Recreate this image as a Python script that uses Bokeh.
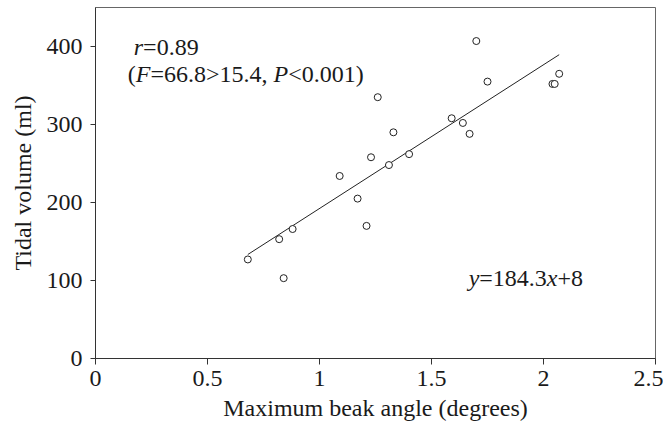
from bokeh.plotting import figure
from bokeh.models import Range1d, FixedTicker, Label
from bokeh.embed import file_html
from bokeh.resources import INLINE

# ---- data ----
beak_angle = [0.68, 0.84, 0.82, 0.88, 1.09, 1.17, 1.21, 1.23, 1.26, 1.33,
              1.31, 1.40, 1.59, 1.64, 1.67, 1.70, 1.75, 2.04, 2.05, 2.07]
tidal_volume = [127, 103, 153, 166, 234, 205, 170, 258, 335, 290,
                248, 262, 308, 302, 288, 407, 355, 352, 352, 365]

fit_slope = 184.3
fit_intercept = 8
fit_x = [0.68, 2.07]

x_ticks = [0, 0.5, 1, 1.5, 2, 2.5]
x_tick_labels = ["0", "0.5", "1", "1.5", "2", "2.5"]
y_ticks = [0, 100, 200, 300, 400]
y_tick_labels = ["0", "100", "200", "300", "400"]

FONT = "Liberation Serif"
TXT = "#1a1a1a"

p = figure(frame_width=560, frame_height=351, min_border_left=95, min_border_right=8,
           min_border_top=7, min_border_bottom=62,
           x_range=Range1d(0, 2.5), y_range=Range1d(0, 450),
           output_backend="svg", toolbar_location=None)

p.grid.visible = False
p.background_fill_color = "white"
p.border_fill_color = "white"
p.outline_line_color = "#666666"
p.outline_line_width = 1

p.xaxis.ticker = FixedTicker(ticks=x_ticks)
p.xaxis.major_label_overrides = {t: l for t, l in zip(x_ticks, x_tick_labels)}
p.yaxis.ticker = FixedTicker(ticks=y_ticks)
p.yaxis.major_label_overrides = {t: l for t, l in zip(y_ticks, y_tick_labels)}

for ax in (p.xaxis, p.yaxis):
    ax.axis_line_color = "#333333"
    ax.major_tick_line_color = "#333333"
    ax.minor_tick_line_color = None
    ax.major_tick_in = 0
    ax.major_label_text_font = FONT
    ax.major_label_text_font_size = "24px"
    ax.major_label_text_color = TXT
    ax.axis_label_text_font = FONT
    ax.axis_label_text_font_size = "24px"
    ax.axis_label_text_font_style = "normal"
    ax.axis_label_text_color = TXT

p.xaxis.major_tick_out = 6
p.yaxis.major_tick_out = 5
p.xaxis.major_label_standoff = 6
p.yaxis.major_label_standoff = 8
p.xaxis.axis_label = "Maximum beak angle (degrees)"
p.yaxis.axis_label = "Tidal volume (ml)"
p.xaxis.axis_label_standoff = 6
p.yaxis.axis_label_standoff = 8

# regression line
fit_y = [fit_slope * x + fit_intercept for x in fit_x]
p.line(fit_x, fit_y, line_color="#222222", line_width=1)

# data points
p.scatter(beak_angle, tidal_volume, marker="circle", size=7,
          fill_color="white", line_color="#222222", line_width=1)

# ---- annotations with italic segments ----
REG = {'.': 250, ',': 250, ' ': 250, '=': 564, '>': 564, '<': 564, '+': 564,
       '(': 333, ')': 333}
ITA = {'r': 389, 'F': 611, 'P': 611, 'y': 444, 'x': 444}


def seg_width(s, italic, size):
    tab = ITA if italic else REG
    return sum(tab.get(c, 500) for c in s) * size / 1000.0


def px_to_data(px, py):
    return (px - 94.7) / 224.1, (358.3 - py) / 0.78


def place(segments, px, py, size=24):
    xd, yd = px_to_data(px, py)
    off = 0.0
    for s, italic in segments:
        p.add_layout(Label(x=xd, y=yd, x_offset=off, text=s,
                           text_font=FONT, text_font_size=f"{size}px",
                           text_font_style="italic" if italic else "normal",
                           text_color=TXT, text_baseline="alphabetic",
                           text_align="left"))
        off += seg_width(s, italic, size)


place([("r", True), ("=0.89", False)], 133, 47)
place([("(", False), ("F", True), ("=66.8>15.4, ", False), ("P", True),
       ("<0.001)", False)], 127, 74)
place([("y", True), ("=184.3", False), ("x", True), ("+8", False)], 468, 278)

open("out.html", "w").write(file_html(p, INLINE))
